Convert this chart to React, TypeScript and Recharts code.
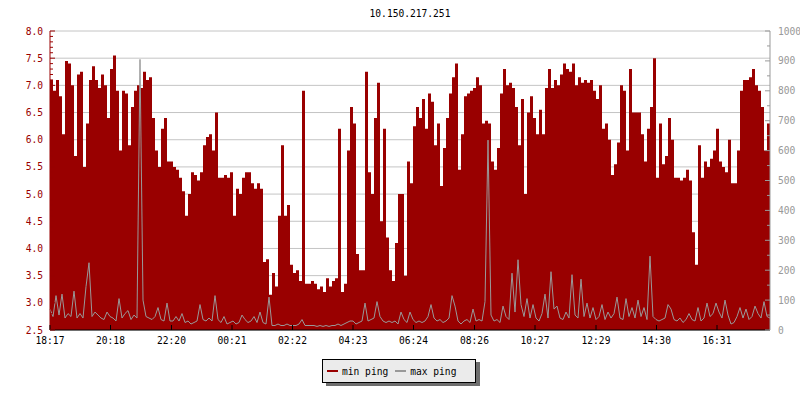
import React from 'react';
import { ComposedChart, Area, Line, XAxis, YAxis, CartesianGrid } from 'recharts';

const TITLE = '10.150.217.251';
const STEP_MINUTES = 6;
const START_LABEL = '18:17';
const TIME_LABELS = ['18:17', '20:18', '22:20', '00:21', '02:22', '04:23', '06:24', '08:26', '10:27', '12:29', '14:30', '16:31'];
const LEFT_LABELS = ['2.5', '3.0', '3.5', '4.0', '4.5', '5.0', '5.5', '6.0', '6.5', '7.0', '7.5', '8.0'];
const RIGHT_LABELS = ['0', '100', '200', '300', '400', '500', '600', '700', '800', '900', '1000'];
const SERIES_NAMES = ['min ping', 'max ping'];

// min ping (left axis), one value per 6 minutes
const MIN_PING = [
  7.1, 6.9, 7.1, 6.8, 6.1, 7.45, 7.4, 7.0, 5.7, 7.2,
  7.25, 5.5, 6.3, 7.1, 7.35, 7.1, 6.95, 7.2, 7.0, 6.4,
  7.3, 7.55, 6.9, 5.8, 6.9, 6.85, 5.9, 6.6, 6.9, 7.0,
  6.95, 7.25, 7.1, 7.15, 6.4, 5.8, 5.5, 6.2, 6.4, 5.6,
  5.6, 5.5, 5.45, 5.3, 5.05, 4.6, 5.0, 5.4, 5.35, 5.25,
  5.4, 5.9, 6.05, 6.1, 5.8, 6.5, 5.3, 5.3, 5.35, 5.3,
  5.4, 4.6, 5.1, 5.0, 5.3, 5.4, 5.4, 5.2, 5.1, 5.2,
  5.1, 3.75, 3.8, 3.15, 3.55, 3.3, 4.6, 5.9, 4.6, 4.8,
  3.7, 3.55, 3.6, 3.4, 6.9, 3.35, 3.35, 3.4, 3.35, 3.25,
  3.3, 3.2, 3.45, 3.3, 3.4, 3.45, 6.2, 3.2, 3.35, 5.8,
  6.6, 6.3, 3.9, 3.6, 3.6, 7.25, 5.4, 5.0, 6.4, 7.05,
  4.5, 6.2, 4.2, 3.6, 3.4, 4.1, 5.0, 5.0, 3.5, 5.6,
  5.2, 6.25, 6.6, 6.4, 6.75, 6.2, 6.85, 6.7, 5.9, 6.3,
  5.15, 5.85, 6.4, 6.85, 7.15, 7.4, 5.45, 6.1, 6.8, 6.85,
  6.9, 6.95, 7.15, 7.0, 6.3, 6.35, 6.3, 5.6, 5.45, 5.85,
  6.85, 7.3, 7.0, 7.05, 6.95, 6.6, 5.9, 6.75, 5.0, 6.5,
  6.8, 6.4, 6.1, 6.55, 6.1, 6.95, 7.3, 6.95, 7.1, 7.0,
  7.2, 7.4, 7.3, 7.25, 7.4, 7.0, 7.15, 7.05, 7.1, 7.05,
  7.1, 6.9, 6.75, 7.0, 6.2, 6.3, 6.0, 5.35, 5.55, 5.95,
  7.0, 6.9, 5.8, 7.3, 6.5, 6.5, 6.5, 6.1, 5.6, 6.2,
  6.6, 7.5, 5.3, 6.3, 5.55, 5.7, 6.4, 6.0, 5.3, 5.3,
  5.25, 5.3, 5.45, 5.25, 4.3, 3.7, 5.9, 5.3, 5.6, 5.5,
  5.65, 5.8, 6.2, 5.6, 5.5, 5.4, 6.0, 5.2, 5.2, 5.8,
  6.9, 7.1, 7.1, 7.15, 7.3, 7.0, 6.9, 6.6, 5.8, 6.3,
  5.8,
];

// max ping (right axis)
const MAX_PING = [
  70, 45, 115, 50, 120, 40, 55, 45, 130, 40,
  55, 40, 145, 225, 45, 60, 50, 40, 35, 60,
  45, 40, 30, 105, 40, 55, 65, 35, 50, 40,
  905, 100, 45, 40, 35, 45, 75, 35, 30, 90,
  30, 30, 45, 30, 55, 25, 30, 20, 25, 30,
  85, 35, 30, 40, 30, 115, 35, 25, 45, 20,
  25, 30, 20, 25, 50, 35, 25, 30, 45, 25,
  60, 25, 20, 110, 15, 15, 20, 15, 15, 20,
  15, 15, 15, 20, 35, 15, 15, 15, 15, 12,
  15, 12, 15, 12, 15, 15, 20, 15, 20, 25,
  30, 30, 20, 25, 30, 90, 30, 35, 40, 95,
  45, 30, 25, 30, 25, 30, 20, 60, 35, 25,
  60, 35, 25, 30, 25, 30, 45, 85, 40, 30,
  35, 25, 30, 40, 115, 80, 30, 20, 30, 35,
  25, 70, 30, 35, 30, 95, 635, 50, 30, 35,
  25, 80, 45, 35, 190, 60, 235, 85, 45, 105,
  40, 85, 40, 30, 55, 120, 40, 195, 70, 80,
  40, 35, 60, 40, 185, 50, 40, 170, 45, 90,
  40, 75, 35, 45, 85, 35, 60, 40, 55, 110,
  40, 35, 105, 45, 75, 40, 100, 45, 75, 35,
  247, 45, 35, 30, 35, 40, 85, 70, 35, 30,
  40, 25, 35, 55, 35, 30, 75, 30, 40, 90,
  45, 55, 90, 60, 40, 100, 50, 20, 25, 45,
  75, 40, 70, 35, 45, 80, 55, 40, 95, 45,
  40,
];

const RED = '#990000';
const GRAY = '#999999';
const GRID = '#c4c4c4';
const FONT = "'DejaVu Sans Mono', monospace";
const FS = 9.6;

const toMin = (s: string) => {
  const [h, m] = s.split(':').map(Number);
  return h * 60 + m;
};
const startMin = toMin(START_LABEL);
const TICK_MINUTES = TIME_LABELS.map((l) => (toMin(l) - startMin + 1440) % 1440);
const LABEL_BY_MIN: Record<number, string> = {};
TICK_MINUTES.forEach((m, i) => (LABEL_BY_MIN[m] = TIME_LABELS[i]));

const LEFT_MAJOR = LEFT_LABELS.map(Number);
const RIGHT_MAJOR = RIGHT_LABELS.map(Number);
const LEFT_MIN = LEFT_MAJOR[0];
const LEFT_MAX = LEFT_MAJOR[LEFT_MAJOR.length - 1];
const RIGHT_MAX = RIGHT_MAJOR[RIGHT_MAJOR.length - 1];
// minor ticks: 5 per major step
const LEFT_TICKS: number[] = [];
for (let k = 0; k <= (LEFT_MAJOR.length - 1) * 5; k++) LEFT_TICKS.push(Math.round((LEFT_MIN + k * 0.1) * 10) / 10);
const RIGHT_TICKS: number[] = [];
for (let k = 0; k <= (RIGHT_MAJOR.length - 1) * 2; k++) RIGHT_TICKS.push(k * 50);

const data = MIN_PING.map((v, i) => ({ t: i * STEP_MINUTES, min: v, max: MAX_PING[i] }));
const TOTAL = (MIN_PING.length - 1) * STEP_MINUTES;

const GAP_L = 7;
const GAP_R = 8;
const GAP_B = 4;

const LeftTick = (props: any) => {
  const { x, y, payload } = props;
  const v = payload.value as number;
  const major = LEFT_MAJOR.some((m) => Math.abs(m - v) < 1e-6);
  const ax = x + GAP_L;
  return (
    <g>
      <line x1={ax} x2={ax + (major ? 5 : 3)} y1={y} y2={y} stroke={RED} strokeWidth={1} />
      {major && (
        <text x={x} y={y} dy={3.5} textAnchor="end" fill={RED} fontSize={FS} fontFamily={FONT}>
          {v.toFixed(1)}
        </text>
      )}
    </g>
  );
};

const RightTick = (props: any) => {
  const { x, y, payload } = props;
  const v = payload.value as number;
  const major = RIGHT_MAJOR.includes(v);
  const ax = x - GAP_R;
  return (
    <g>
      <line x1={ax} x2={ax - (major ? 5 : 3)} y1={y} y2={y} stroke={GRAY} strokeWidth={1} />
      {major && (
        <text x={x} y={y} dy={3.5} textAnchor="start" fill={GRAY} fontSize={FS} fontFamily={FONT}>
          {String(v)}
        </text>
      )}
    </g>
  );
};

const BottomTick = (props: any) => {
  const { x, y, payload } = props;
  const ay = y - GAP_B;
  return (
    <g>
      <line x1={x} x2={x} y1={ay} y2={ay - 5} stroke="#000" strokeWidth={1} />
      <text x={x} y={y} dy={10} textAnchor="middle" fill="#000" fontSize={FS} fontFamily={FONT}>
        {LABEL_BY_MIN[payload.value]}
      </text>
    </g>
  );
};

export default function App() {
  return (
    <div style={{ position: 'absolute', left: 0, top: 0, width: 800, height: 400, background: '#fff' }}>
      <div
        style={{
          position: 'absolute',
          left: 50,
          width: 720,
          top: 8,
          lineHeight: '12px',
          textAlign: 'center',
          fontFamily: FONT,
          fontSize: FS,
          color: '#000',
        }}
      >
        {TITLE}
      </div>
      <ComposedChart width={800} height={400} data={data} margin={{ top: 31, right: 0, bottom: 50, left: 0 }}>
        <CartesianGrid vertical={false} yAxisId="left" stroke={GRID} horizontalValues={LEFT_MAJOR} />
        <XAxis
          dataKey="t"
          type="number"
          domain={[0, TOTAL]}
          ticks={TICK_MINUTES}
          interval={0}
          height={20}
          tickSize={0}
          tickMargin={GAP_B}
          axisLine={{ stroke: '#000' }}
          tick={(p: any) => <BottomTick {...p} />}
        />
        <YAxis
          yAxisId="left"
          orientation="left"
          width={50}
          domain={[LEFT_MIN, LEFT_MAX]}
          ticks={LEFT_TICKS}
          interval={0}
          allowDataOverflow
          tickSize={0}
          tickMargin={GAP_L}
          axisLine={{ stroke: RED }}
          tick={(p: any) => <LeftTick {...p} />}
        />
        <YAxis
          yAxisId="right"
          orientation="right"
          width={30}
          domain={[0, RIGHT_MAX]}
          ticks={RIGHT_TICKS}
          interval={0}
          allowDataOverflow
          tickSize={0}
          tickMargin={GAP_R}
          axisLine={{ stroke: GRAY }}
          tick={(p: any) => <RightTick {...p} />}
        />
        <Area
          yAxisId="left"
          dataKey="min"
          name={SERIES_NAMES[0]}
          type="stepAfter"
          fill={RED}
          fillOpacity={1}
          stroke="none"
          isAnimationActive={false}
          dot={false}
          activeDot={false}
        />
        <Line
          yAxisId="right"
          dataKey="max"
          name={SERIES_NAMES[1]}
          type="linear"
          stroke={GRAY}
          strokeWidth={1}
          dot={false}
          activeDot={false}
          isAnimationActive={false}
        />
      </ComposedChart>
      <div
        style={{
          position: 'absolute',
          left: 322,
          top: 359,
          width: 152,
          height: 22,
          background: '#ebebeb',
          border: '1px solid #000',
          boxShadow: '4px 3px 0 #6e6e6e',
          display: 'flex',
          alignItems: 'center',
          fontFamily: FONT,
          fontSize: FS,
          color: '#000',
          boxSizing: 'content-box',
        }}
      >
        <span style={{ display: 'inline-block', width: 11, height: 2, background: RED, marginLeft: 4, marginRight: 4 }} />
        <span>{SERIES_NAMES[0]}</span>
        <span style={{ display: 'inline-block', width: 11, height: 2, background: GRAY, marginLeft: 7, marginRight: 4 }} />
        <span>{SERIES_NAMES[1]}</span>
      </div>
    </div>
  );
}
